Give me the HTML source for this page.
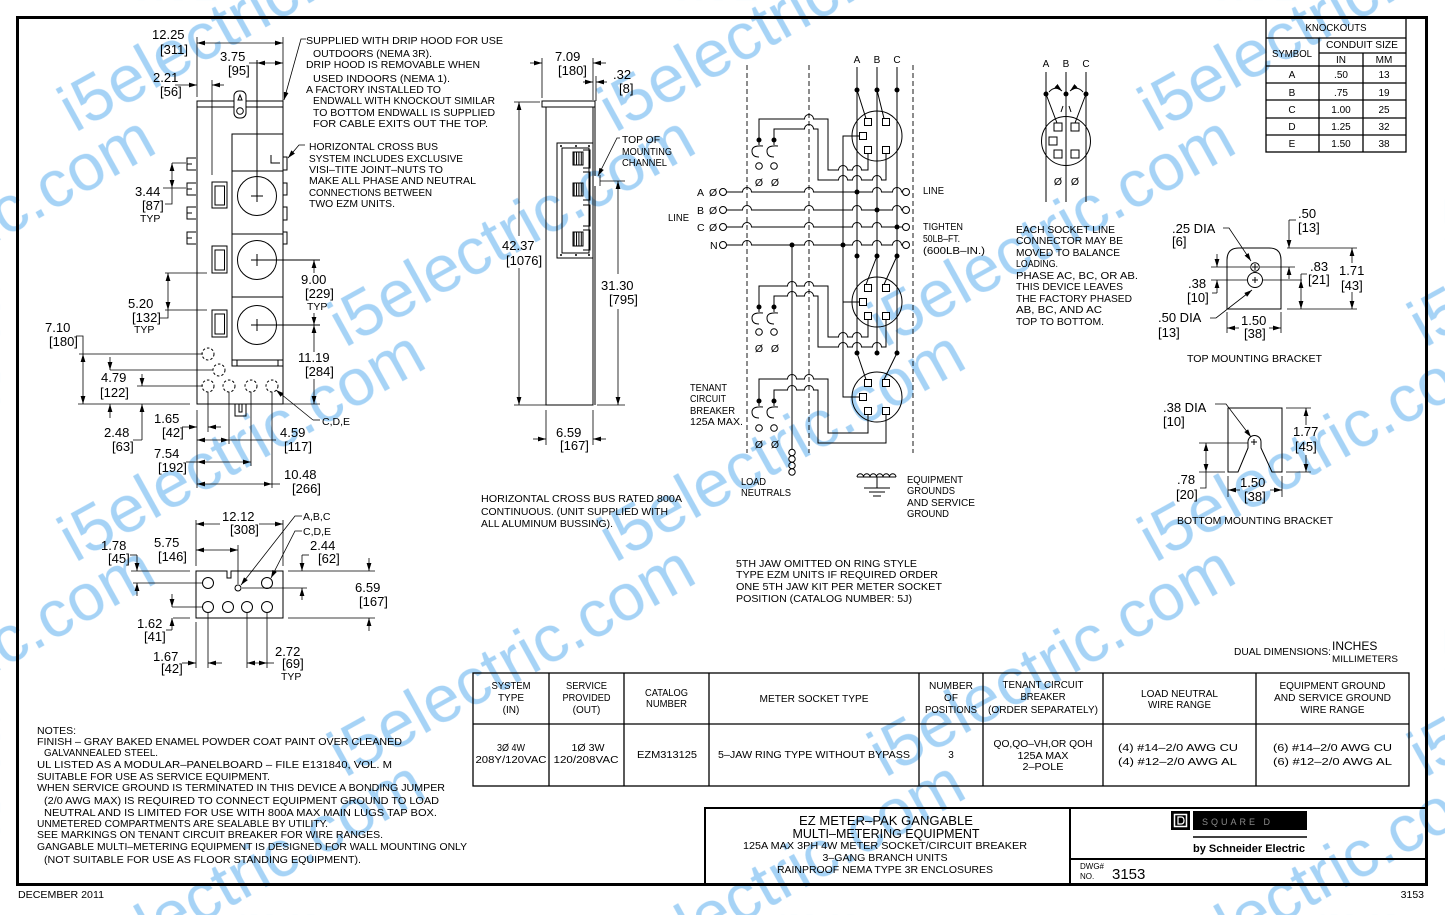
<!DOCTYPE html>
<html><head><meta charset="utf-8">
<style>
html,body{margin:0;padding:0;background:#fff;width:1445px;height:915px;overflow:hidden}
svg{display:block}
.t text{font-family:"Liberation Sans",Arial,sans-serif;fill:#000}
.d{font-size:13px}
.n{font-size:10.5px}
.s{font-size:10px}
.m{text-anchor:middle}
</style></head><body>
<svg xmlns="http://www.w3.org/2000/svg" width="1445" height="915" viewBox="0 0 1445 915">
<defs>
<marker id="a" viewBox="0 0 10 6" refX="10" refY="3" markerWidth="8" markerHeight="4.8" markerUnits="userSpaceOnUse" orient="auto-start-reverse"><path d="M0,0L10,3L0,6Z" fill="#000" stroke="none"/></marker>
<pattern id="st" width="2.4" height="10" patternUnits="userSpaceOnUse"><rect x="0" y="0" width="1" height="10" fill="#000"/></pattern>
<pattern id="wm" patternUnits="userSpaceOnUse" x="0" y="0" width="1445" height="915">
<g font-family="'Liberation Sans',Arial,sans-serif" font-size="66" fill="#a6d3f6">
<text transform="translate(75,133) rotate(-29)" textLength="405" lengthAdjust="spacingAndGlyphs">i5electric.com</text>
<text transform="translate(615,133) rotate(-29)" textLength="405" lengthAdjust="spacingAndGlyphs">i5electric.com</text>
<text transform="translate(1155,133) rotate(-29)" textLength="405" lengthAdjust="spacingAndGlyphs">i5electric.com</text>
<text transform="translate(-195,348) rotate(-29)" textLength="405" lengthAdjust="spacingAndGlyphs">i5electric.com</text>
<text transform="translate(345,348) rotate(-29)" textLength="405" lengthAdjust="spacingAndGlyphs">i5electric.com</text>
<text transform="translate(885,348) rotate(-29)" textLength="405" lengthAdjust="spacingAndGlyphs">i5electric.com</text>
<text transform="translate(1425,348) rotate(-29)" textLength="405" lengthAdjust="spacingAndGlyphs">i5electric.com</text>
<text transform="translate(75,563) rotate(-29)" textLength="405" lengthAdjust="spacingAndGlyphs">i5electric.com</text>
<text transform="translate(615,563) rotate(-29)" textLength="405" lengthAdjust="spacingAndGlyphs">i5electric.com</text>
<text transform="translate(1155,563) rotate(-29)" textLength="405" lengthAdjust="spacingAndGlyphs">i5electric.com</text>
<text transform="translate(-195,778) rotate(-29)" textLength="405" lengthAdjust="spacingAndGlyphs">i5electric.com</text>
<text transform="translate(345,778) rotate(-29)" textLength="405" lengthAdjust="spacingAndGlyphs">i5electric.com</text>
<text transform="translate(885,778) rotate(-29)" textLength="405" lengthAdjust="spacingAndGlyphs">i5electric.com</text>
<text transform="translate(1425,778) rotate(-29)" textLength="405" lengthAdjust="spacingAndGlyphs">i5electric.com</text>
<text transform="translate(75,993) rotate(-29)" textLength="405" lengthAdjust="spacingAndGlyphs">i5electric.com</text>
<text transform="translate(615,993) rotate(-29)" textLength="405" lengthAdjust="spacingAndGlyphs">i5electric.com</text>
<text transform="translate(1155,993) rotate(-29)" textLength="405" lengthAdjust="spacingAndGlyphs">i5electric.com</text>
</g>
</pattern>
</defs>
<rect width="1445" height="915" fill="#fff"/>
<rect width="1445" height="915" fill="url(#wm)"/>

<g fill="none" stroke="#000" stroke-width="1">
<!-- border -->
<rect x="17.5" y="17.5" width="1409" height="867" stroke-width="3"/>

<!-- ===== FRONT VIEW ===== -->
<rect x="197" y="101" width="86" height="6"/>
<rect x="197" y="107" width="86" height="297"/>
<rect x="234" y="91" width="12" height="27" rx="5" fill="#fff"/>
<circle cx="240" cy="111" r="3.3"/>
<path d="M238,100L240,95L242,100Z"/>
<rect x="232" y="134" width="51" height="232"/>
<path d="M232,171H283M232,234H283M232,297H283M232,360H283M237,360V366M278,360V366"/>
<circle cx="257" cy="196" r="19.5"/><circle cx="257" cy="260" r="19.5"/><circle cx="257" cy="325" r="19.5"/>
<path d="M257,60V202M251,196H263M251,260H320M257,254V266M251,325H320M257,319V331"/>
<path d="M271,155V163H280"/>
<rect x="283" y="157" width="4" height="13"/><rect x="283" y="183" width="4" height="12"/>
<rect x="283" y="207" width="4" height="13"/><rect x="283" y="232" width="4" height="12"/>
<path d="M196,158H187V170H196M187,164H192M196,183H187V195H196M187,189H192M196,207H187V219H196M187,213H192M196,232H187V244H196M187,238H192"/>
<rect x="212" y="182" width="15" height="26"/><rect x="215" y="186" width="9.5" height="19"/>
<rect x="212" y="246" width="15" height="27"/><rect x="215" y="250" width="9.5" height="20"/>
<rect x="212" y="310" width="15" height="27"/><rect x="215" y="314" width="9.5" height="20"/>
<g stroke-dasharray="2.5,2">
<circle cx="208" cy="354" r="6"/><circle cx="219" cy="370" r="6"/><circle cx="208" cy="386" r="6"/>
<circle cx="229" cy="386" r="6"/><circle cx="251" cy="386" r="6"/><circle cx="272" cy="386" r="6"/>
</g>
<path d="M235,404V416H246V404M239,404V412H242V404"/>

<!-- front view dims -->
<g stroke-width="0.8">
<line x1="197" y1="43" x2="283" y2="43" marker-start="url(#a)" marker-end="url(#a)"/>
<path d="M197,37V97M283,37V101"/>
<line x1="257" y1="63" x2="283" y2="63" marker-start="url(#a)" marker-end="url(#a)"/>
<path d="M249,63H257"/>
<line x1="175" y1="85" x2="197" y2="85" marker-end="url(#a)"/>
<line x1="224" y1="85" x2="212" y2="85" marker-end="url(#a)"/>
<path d="M212,80V175"/>
<line x1="172" y1="163" x2="172" y2="188" marker-start="url(#a)" marker-end="url(#a)"/>
<path d="M172,163H186M163,188H186M165,204H172V188"/>
<line x1="168" y1="273" x2="168" y2="310" marker-start="url(#a)" marker-end="url(#a)"/>
<path d="M165,273H207M165,310H207M160,318H168V310"/>
<line x1="83" y1="354" x2="83" y2="404" marker-start="url(#a)" marker-end="url(#a)"/>
<path d="M76,336H83V354M79,354H203M78,404H190"/>
<line x1="110" y1="357" x2="110" y2="370" marker-end="url(#a)"/>
<line x1="110" y1="418" x2="110" y2="404" marker-end="url(#a)"/>
<path d="M110,370H213"/>
<line x1="142" y1="374" x2="142" y2="386" marker-end="url(#a)"/>
<line x1="142" y1="440" x2="142" y2="404" marker-end="url(#a)"/>
<path d="M137,386H203M142,440H133"/>
<line x1="182" y1="427" x2="197" y2="427" marker-end="url(#a)"/>
<line x1="221" y1="427" x2="208" y2="427" marker-end="url(#a)"/>
<path d="M197,410V488M208,392V432M229,392V444M251,392V466M272,392V488"/>
<line x1="197" y1="440" x2="229" y2="440" marker-start="url(#a)" marker-end="url(#a)"/>
<path d="M229,440H276"/>
<line x1="197" y1="462" x2="251" y2="462" marker-start="url(#a)" marker-end="url(#a)"/>
<path d="M186,462H197"/>
<line x1="197" y1="484" x2="272" y2="484" marker-start="url(#a)" marker-end="url(#a)"/>
<path d="M272,484H280"/>
<line x1="314" y1="273" x2="314" y2="260" marker-end="url(#a)"/>
<line x1="314" y1="313" x2="314" y2="325" marker-end="url(#a)"/>
<line x1="314" y1="352" x2="314" y2="325" marker-end="url(#a)"/>
<line x1="314" y1="379" x2="314" y2="404" marker-end="url(#a)"/>
<path d="M283,404H320"/>
<line x1="313" y1="420" x2="276" y2="390" marker-end="url(#a)"/>
<path d="M313,420H320"/>
<path d="M306,39H301L284,100" marker-end="url(#a)"/>
<path d="M305,145H299L288,158" marker-end="url(#a)"/>
</g>

<!-- ===== SIDE VIEW ===== -->
<rect x="542" y="101" width="53" height="6"/>
<rect x="546" y="107" width="47" height="298"/>
<path d="M595,107V176M595,186V405"/>
<rect x="557" y="143" width="36" height="115"/>
<rect x="562" y="148" width="27" height="105"/>
<rect x="573" y="152" width="10" height="13" fill="url(#st)"/>
<rect x="573" y="183" width="10" height="13" fill="url(#st)"/>
<rect x="573" y="232" width="10" height="14" fill="url(#st)"/>
<path d="M583,150H590V168H583M583,172H590V200H583M583,205H590V226H583M583,230H590V250H583"/>
<g fill="#000" stroke="none"><circle cx="561" cy="146" r="1"/><circle cx="576" cy="146" r="1"/><circle cx="589" cy="146" r="1"/><circle cx="561" cy="255" r="1"/><circle cx="576" cy="255" r="1"/><circle cx="589" cy="255" r="1"/></g>
<g stroke-width="0.8">
<path d="M542,58V98M593,58V100M596,76V101"/>
<line x1="530" y1="63" x2="542" y2="63" marker-end="url(#a)"/>
<line x1="606" y1="63" x2="593" y2="63" marker-end="url(#a)"/>
<line x1="583" y1="82" x2="593" y2="82" marker-end="url(#a)"/>
<line x1="607" y1="82" x2="596" y2="82" marker-end="url(#a)"/>
<path d="M514,102H540M514,405H546"/>
<line x1="519" y1="236" x2="519" y2="102" marker-end="url(#a)"/>
<line x1="519" y1="268" x2="519" y2="405" marker-end="url(#a)"/>
<path d="M600,181H625M597,405H625"/>
<line x1="618" y1="274" x2="618" y2="181" marker-end="url(#a)"/>
<line x1="618" y1="309" x2="618" y2="405" marker-end="url(#a)"/>
<path d="M546,410V445M593,410V445"/>
<line x1="533" y1="439" x2="546" y2="439" marker-end="url(#a)"/>
<line x1="606" y1="439" x2="593" y2="439" marker-end="url(#a)"/>
<path d="M620,138H617L598,176" marker-end="url(#a)"/>
<path d="M600,175V186"/>
</g>

<!-- ===== SCHEMATIC ===== -->
<g stroke-dasharray="5,3" stroke-width="0.9">
<path d="M747,65V453M809,65V453M913,65V453"/>
</g>
<path d="M857,67V353M877,67V353M897,67V353"/>
<circle cx="723" cy="192" r="3.5"/><circle cx="723" cy="210" r="3.5"/><circle cx="723" cy="227" r="3.5"/><circle cx="723" cy="245" r="3.5"/>
<circle cx="906" cy="192" r="3.5"/><circle cx="906" cy="210" r="3.5"/><circle cx="906" cy="227" r="3.5"/><circle cx="906" cy="245" r="3.5"/>
<path d="M726.5,192H742.5A4.5,4.5 0 0 1 751.5,192H804.5A4.5,4.5 0 0 1 813.5,192H872.5A4.5,4.5 0 0 1 881.5,192H892.5A4.5,4.5 0 0 1 901.5,192H902.5"/>
<path d="M726.5,210H742.5A4.5,4.5 0 0 1 751.5,210H804.5A4.5,4.5 0 0 1 813.5,210H852.5A4.5,4.5 0 0 1 861.5,210H892.5A4.5,4.5 0 0 1 901.5,210H902.5"/>
<path d="M726.5,227H742.5A4.5,4.5 0 0 1 751.5,227H804.5A4.5,4.5 0 0 1 813.5,227H852.5A4.5,4.5 0 0 1 861.5,227H872.5A4.5,4.5 0 0 1 881.5,227H902.5"/>
<path d="M726.5,245H742.5A4.5,4.5 0 0 1 751.5,245H804.5A4.5,4.5 0 0 1 813.5,245H852.5A4.5,4.5 0 0 1 861.5,245H872.5A4.5,4.5 0 0 1 881.5,245H892.5A4.5,4.5 0 0 1 901.5,245H902.5"/>
<path d="M859.5,136H843V397H859.5M843,302H859.5"/>
<path d="M792,245V449"/>
<circle cx="792" cy="452.5" r="3.2"/><circle cx="792" cy="459" r="3.2"/><circle cx="792" cy="465.5" r="3.2"/><circle cx="792" cy="472" r="3.2"/>
<circle cx="877" cy="136" r="25"/><circle cx="877" cy="302" r="25"/><circle cx="877" cy="397" r="25"/>
<g fill="#fff">
<rect x="864.5" y="118.5" width="7" height="7"/><rect x="882.5" y="118.5" width="7" height="7"/><rect x="859.5" y="132.5" width="7" height="7"/><rect x="864.5" y="146.5" width="7" height="7"/><rect x="882.5" y="146.5" width="7" height="7"/>
<rect x="864.5" y="284.5" width="7" height="7"/><rect x="882.5" y="284.5" width="7" height="7"/><rect x="859.5" y="298.5" width="7" height="7"/><rect x="864.5" y="312.5" width="7" height="7"/><rect x="882.5" y="312.5" width="7" height="7"/>
<rect x="864.5" y="379.5" width="7" height="7"/><rect x="882.5" y="379.5" width="7" height="7"/><rect x="859.5" y="393.5" width="7" height="7"/><rect x="864.5" y="407.5" width="7" height="7"/><rect x="882.5" y="407.5" width="7" height="7"/>
</g>
<path d="M857,90L866,118.5M877,90L884,118.5M877,256L866,284.5M897,256L884,284.5M857,353L866,379.5M897,353L884,379.5"/>
<path d="M759,140V119H804.5A4.5,4.5 0 0 1 813.5,119H828V170H838.5A4.5,4.5 0 0 1 847.5,170H852.5A4.5,4.5 0 0 1 861.5,170H868V153.5"/>
<path d="M774,140V129H804.5A4.5,4.5 0 0 1 813.5,129H818V180H838.5A4.5,4.5 0 0 1 847.5,180H852.5A4.5,4.5 0 0 1 861.5,180H872.5A4.5,4.5 0 0 1 881.5,180H886V153.5"/>
<path d="M759,307V286H787.5A4.5,4.5 0 0 1 796.5,286H804.5A4.5,4.5 0 0 1 813.5,286H828V337H838.5A4.5,4.5 0 0 1 847.5,337H852.5A4.5,4.5 0 0 1 861.5,337H868V319.5"/>
<path d="M774,307V296H787.5A4.5,4.5 0 0 1 796.5,296H804.5A4.5,4.5 0 0 1 813.5,296H818V347H838.5A4.5,4.5 0 0 1 847.5,347H852.5A4.5,4.5 0 0 1 861.5,347H872.5A4.5,4.5 0 0 1 881.5,347H886V319.5"/>
<path d="M759,401V379H787.5A4.5,4.5 0 0 1 796.5,379H804.5A4.5,4.5 0 0 1 813.5,379H828V433H868V414.5"/>
<path d="M774,401V390H787.5A4.5,4.5 0 0 1 796.5,390H804.5A4.5,4.5 0 0 1 813.5,390H818V443H886V414.5"/>
<path d="M759,140V145M763,146Q752,145 752,151Q752,157 759,157M774,140V145M778,146Q767,145 767,151Q767,157 774,157"/>
<circle cx="759" cy="166" r="3.3"/><circle cx="774" cy="166" r="3.3"/>
<path d="M759,307V312M763,313Q752,312 752,318Q752,324 759,324M774,307V312M778,313Q767,312 767,318Q767,324 774,324"/>
<circle cx="759" cy="332" r="3.3"/><circle cx="774" cy="332" r="3.3"/>
<path d="M759,401V406M763,407Q752,406 752,412Q752,418 759,418M774,401V406M778,407Q767,406 767,412Q767,418 774,418"/>
<circle cx="759" cy="428" r="3.3"/><circle cx="774" cy="428" r="3.3"/>
<g fill="#000" stroke="none">
<circle cx="857" cy="90" r="2.5"/><circle cx="877" cy="90" r="2.5"/><circle cx="897" cy="90" r="2.5"/>
<circle cx="857" cy="256" r="2.5"/><circle cx="877" cy="256" r="2.5"/><circle cx="897" cy="256" r="2.5"/>
<circle cx="857" cy="353" r="2.5"/><circle cx="877" cy="353" r="2.5"/><circle cx="897" cy="353" r="2.5"/>
<circle cx="857" cy="192" r="2.5"/><circle cx="877" cy="210" r="2.5"/><circle cx="897" cy="227" r="2.5"/>
<circle cx="792" cy="245" r="2.5"/><circle cx="843" cy="245" r="2.5"/>
<circle cx="759" cy="140" r="2.5"/><circle cx="774" cy="140" r="2.5"/>
<circle cx="759" cy="307" r="2.5"/><circle cx="774" cy="307" r="2.5"/>
<circle cx="759" cy="401" r="2.5"/><circle cx="774" cy="401" r="2.5"/>
</g>
<path d="M857,477A3.25,3.25 0 0 1 863.5,477A3.25,3.25 0 0 1 870,477A3.25,3.25 0 0 1 876.5,477A3.25,3.25 0 0 1 883,477A3.25,3.25 0 0 1 889.5,477A3.25,3.25 0 0 1 896,477M857,477H896M877,477V488M864,488H890M869,492H885M873,496H881"/>

<!-- ===== SOCKET DETAIL (right) ===== -->
<path d="M1046,72V202M1066,72V202M1086,72V202"/>
<circle cx="1066" cy="141" r="24.5"/>
<g fill="#fff">
<rect x="1054" y="123" width="8" height="8"/><rect x="1071" y="123" width="8" height="8"/><rect x="1049" y="137" width="8" height="8"/><rect x="1054" y="150" width="8" height="8"/><rect x="1071" y="150" width="8" height="8"/>
</g>
<path d="M1046,94L1057,123M1086,94L1075,123M1061,112L1063,106M1071,112L1069,106"/>
<path d="M1049,92Q1055,85 1062,91" marker-end="url(#a)"/>
<path d="M1083,92Q1077,85 1070,91" marker-end="url(#a)"/>
<g fill="#000" stroke="none"><circle cx="1046" cy="94" r="2.5"/><circle cx="1066" cy="94" r="2.5"/><circle cx="1086" cy="94" r="2.5"/></g>

<!-- ===== KNOCKOUTS TABLE ===== -->
<g stroke-width="1.3">
<rect x="1266" y="18" width="140" height="134"/>
<path d="M1266,38H1406M1319,53H1406M1266,66H1406M1266,83H1406M1266,100H1406M1266,118H1406M1266,135H1406M1319,38V152M1363,53V152"/>
</g>

<!-- ===== TOP MOUNTING BRACKET ===== -->
<path d="M1227,309V260Q1227,248 1239,248H1269Q1281,248 1281,260V309Z"/>
<circle cx="1255" cy="280" r="7.5" fill="#fff"/>
<circle cx="1255" cy="267" r="4.3" fill="#fff"/>
<path d="M1252,267H1258M1255,264V270M1252,280H1258M1255,277V283"/>
<g stroke-width="0.8">
<path d="M1211,267H1250M1260,267H1295M1211,280H1247M1263,280H1302M1287,248H1357M1287,309H1357"/>
<line x1="1217" y1="254" x2="1217" y2="267" marker-end="url(#a)"/>
<line x1="1217" y1="293" x2="1217" y2="280" marker-end="url(#a)"/>
<path d="M1217,293H1212"/>
<line x1="1289" y1="220" x2="1289" y2="248" marker-end="url(#a)"/>
<path d="M1289,220H1296"/>
<line x1="1289" y1="279" x2="1289" y2="267" marker-end="url(#a)"/>
<line x1="1301" y1="280" x2="1301" y2="309" marker-start="url(#a)" marker-end="url(#a)"/>
<path d="M1301,274V280M1301,274H1307"/>
<line x1="1352" y1="263" x2="1352" y2="248" marker-end="url(#a)"/>
<line x1="1352" y1="292" x2="1352" y2="309" marker-end="url(#a)"/>
<path d="M1223,228H1229L1251,261" marker-end="url(#a)"/>
<path d="M1210,318H1216L1252,290" marker-end="url(#a)"/>
<path d="M1227,312V333M1281,312V333"/>
<line x1="1239" y1="328" x2="1227" y2="328" marker-end="url(#a)"/>
<line x1="1269" y1="328" x2="1281" y2="328" marker-end="url(#a)"/>
</g>

<!-- ===== BOTTOM MOUNTING BRACKET ===== -->
<path d="M1228,472V408H1282V472H1272L1261,448V442A6.5,6.5 0 0 0 1248,442V448L1238,472Z"/>
<path d="M1251,442H1257M1254,439V445"/>
<g stroke-width="0.8">
<path d="M1286,408H1311M1286,472H1311M1199,443H1248M1199,472H1225"/>
<line x1="1306" y1="425" x2="1306" y2="408" marker-end="url(#a)"/>
<line x1="1306" y1="455" x2="1306" y2="472" marker-end="url(#a)"/>
<line x1="1206" y1="443" x2="1206" y2="472" marker-start="url(#a)" marker-end="url(#a)"/>
<path d="M1206,472V488H1200"/>
<path d="M1215,404H1226L1251,437" marker-end="url(#a)"/>
<path d="M1228,476V497M1282,476V497"/>
<line x1="1240" y1="490" x2="1228" y2="490" marker-end="url(#a)"/>
<line x1="1270" y1="490" x2="1282" y2="490" marker-end="url(#a)"/>
</g>

<!-- ===== PLAN VIEW (bottom-left) ===== -->
<path d="M196,571H227V578H231V571H283V618H196Z"/>
<circle cx="208" cy="583" r="5.5"/><circle cx="267" cy="583" r="5.5"/><circle cx="238" cy="588" r="3"/>
<circle cx="208" cy="607" r="5.5"/><circle cx="228" cy="607" r="5.5"/><circle cx="247" cy="607" r="5.5"/><circle cx="267" cy="607" r="5.5"/>
<g stroke-width="0.8">
<path d="M196,520V566M283,520V566"/>
<line x1="220" y1="524" x2="196" y2="524" marker-end="url(#a)"/>
<line x1="259" y1="524" x2="283" y2="524" marker-end="url(#a)"/>
<line x1="196" y1="550" x2="238" y2="550" marker-start="url(#a)" marker-end="url(#a)"/>
<path d="M238,545V584"/>
<path d="M131,571H190M133,583H203"/>
<line x1="137" y1="555" x2="137" y2="571" marker-end="url(#a)"/>
<path d="M130,555H137"/>
<line x1="137" y1="596" x2="137" y2="583" marker-end="url(#a)"/>
<path d="M172,607H203M173,618H190"/>
<line x1="172" y1="594" x2="172" y2="607" marker-end="url(#a)"/>
<line x1="172" y1="630" x2="172" y2="618" marker-end="url(#a)"/>
<path d="M166,630H172"/>
<path d="M288,571H375M288,618H375"/>
<line x1="369" y1="558" x2="369" y2="571" marker-end="url(#a)"/>
<line x1="369" y1="631" x2="369" y2="618" marker-end="url(#a)"/>
<path d="M242,588H307"/>
<line x1="302" y1="555" x2="302" y2="571" marker-end="url(#a)"/>
<path d="M302,555H309"/>
<line x1="302" y1="600" x2="302" y2="588" marker-end="url(#a)"/>
<path d="M302,516H295L241,585" marker-end="url(#a)"/>
<path d="M302,531H295L271,578" marker-end="url(#a)"/>
<path d="M196,622V668M208,613V668M247,613V668M267,613V668"/>
<line x1="182" y1="663" x2="196" y2="663" marker-end="url(#a)"/>
<line x1="222" y1="663" x2="208" y2="663" marker-end="url(#a)"/>
<line x1="247" y1="663" x2="267" y2="663" marker-start="url(#a)" marker-end="url(#a)"/>
<path d="M267,663H274"/>
</g>

<!-- ===== MAIN TABLE ===== -->
<g stroke-width="1.3">
<rect x="473" y="673" width="936" height="113"/>
<path d="M473,724H1409M549,673V786M624,673V786M709,673V786M919,673V786M983,673V786M1103,673V786M1256,673V786"/>
</g>

<!-- ===== TITLE BLOCK ===== -->
<g stroke-width="2">
<path d="M705,885V808H1427M1070,808V885M1070,859H1427"/>
</g>
<rect x="1171" y="811" width="19" height="19" fill="#000" stroke="none"/>
<rect x="1174.5" y="814.5" width="12" height="12" stroke="#fff" stroke-width="1.5"/>
<path d="M1178,817V824H1181Q1184,824 1184,820.5Q1184,817 1181,817Z" stroke="#fff" stroke-width="1.2"/>
<rect x="1193" y="811" width="114" height="19" fill="#000" stroke="none"/>
<path d="M1193,837H1307" stroke-width="1.5"/>
</g>

<!-- ===== TEXT ===== -->
<g class="t">
<text class="n" x="306" y="44" textLength="197" lengthAdjust="spacingAndGlyphs">SUPPLIED WITH DRIP HOOD FOR USE</text>
<text class="n" x="313" y="57" textLength="119" lengthAdjust="spacingAndGlyphs">OUTDOORS (NEMA 3R).</text>
<text class="n" x="306" y="68" textLength="174" lengthAdjust="spacingAndGlyphs">DRIP HOOD IS REMOVABLE WHEN</text>
<text class="n" x="313" y="82" textLength="137" lengthAdjust="spacingAndGlyphs">USED INDOORS (NEMA 1).</text>
<text class="n" x="306" y="93" textLength="135" lengthAdjust="spacingAndGlyphs">A FACTORY INSTALLED TO</text>
<text class="n" x="313" y="104" textLength="182" lengthAdjust="spacingAndGlyphs">ENDWALL WITH KNOCKOUT SIMILAR</text>
<text class="n" x="313" y="116" textLength="182" lengthAdjust="spacingAndGlyphs">TO BOTTOM ENDWALL IS SUPPLIED</text>
<text class="n" x="313" y="127" textLength="175" lengthAdjust="spacingAndGlyphs">FOR CABLE EXITS OUT THE TOP.</text>
<text class="n" x="309" y="150" textLength="129" lengthAdjust="spacingAndGlyphs">HORIZONTAL CROSS BUS</text>
<text class="n" x="309" y="162" textLength="154" lengthAdjust="spacingAndGlyphs">SYSTEM INCLUDES EXCLUSIVE</text>
<text class="n" x="309" y="173" textLength="134" lengthAdjust="spacingAndGlyphs">VISI–TITE JOINT–NUTS TO</text>
<text class="n" x="309" y="184" textLength="167" lengthAdjust="spacingAndGlyphs">MAKE ALL PHASE AND NEUTRAL</text>
<text class="n" x="309" y="196" textLength="123" lengthAdjust="spacingAndGlyphs">CONNECTIONS BETWEEN</text>
<text class="n" x="309" y="207" textLength="86" lengthAdjust="spacingAndGlyphs">TWO EZM UNITS.</text>

<text class="d" x="152" y="39">12.25</text>
<text class="d" x="160" y="54">[311]</text>
<text class="d" x="220" y="61">3.75</text>
<text class="d" x="228" y="75">[95]</text>
<text class="d" x="153" y="82">2.21</text>
<text class="d" x="160" y="96">[56]</text>
<text class="d" x="135" y="196">3.44</text>
<text class="d" x="142" y="210">[87]</text>
<text class="n" x="140" y="222">TYP</text>
<text class="d" x="301" y="284">9.00</text>
<text class="d" x="305" y="298">[229]</text>
<text class="n" x="307" y="310">TYP</text>
<text class="d" x="128" y="308">5.20</text>
<text class="d" x="132" y="322">[132]</text>
<text class="n" x="134" y="333">TYP</text>
<text class="d" x="45" y="332">7.10</text>
<text class="d" x="49" y="346">[180]</text>
<text class="d" x="298" y="362">11.19</text>
<text class="d" x="305" y="376">[284]</text>
<text class="d" x="101" y="382">4.79</text>
<text class="d" x="100" y="397">[122]</text>
<text class="d" x="154" y="423">1.65</text>
<text class="d" x="162" y="437">[42]</text>
<text class="d" x="104" y="437">2.48</text>
<text class="d" x="112" y="451">[63]</text>
<text class="d" x="280" y="437">4.59</text>
<text class="d" x="284" y="451">[117]</text>
<text class="d" x="154" y="458">7.54</text>
<text class="d" x="158" y="472">[192]</text>
<text class="d" x="284" y="479">10.48</text>
<text class="d" x="292" y="493">[266]</text>
<text class="n" x="322" y="425">C,D,E</text>

<text class="d" x="555" y="61">7.09</text>
<text class="d" x="558" y="75">[180]</text>
<text class="d" x="613" y="79">.32</text>
<text class="d" x="619" y="93">[8]</text>
<text class="d" x="502" y="250">42.37</text>
<text class="d" x="506" y="265">[1076]</text>
<text class="d" x="601" y="290">31.30</text>
<text class="d" x="609" y="304">[795]</text>
<text class="d" x="556" y="437">6.59</text>
<text class="d" x="560" y="450">[167]</text>
<text class="n" x="622" y="143" textLength="38" lengthAdjust="spacingAndGlyphs">TOP OF</text>
<text class="n" x="622" y="155" textLength="50" lengthAdjust="spacingAndGlyphs">MOUNTING</text>
<text class="n" x="622" y="166" textLength="45" lengthAdjust="spacingAndGlyphs">CHANNEL</text>

<text class="s m" x="857" y="63">A</text>
<text class="s m" x="877" y="63">B</text>
<text class="s m" x="897" y="63">C</text>
<text class="n" x="697" y="196">A</text><text class="n" x="709" y="196">Ø</text>
<text class="n" x="697" y="214">B</text><text class="n" x="709" y="214">Ø</text>
<text class="n" x="697" y="231">C</text><text class="n" x="709" y="231">Ø</text>
<text class="n" x="710" y="249">N</text>
<text class="n" x="668" y="221" textLength="21" lengthAdjust="spacingAndGlyphs">LINE</text>
<text class="n" x="923" y="194" textLength="21" lengthAdjust="spacingAndGlyphs">LINE</text>
<text class="n" x="923" y="230" textLength="40" lengthAdjust="spacingAndGlyphs">TIGHTEN</text>
<text class="n" x="923" y="242" textLength="37" lengthAdjust="spacingAndGlyphs">50LB–FT.</text>
<text class="n" x="923" y="254" textLength="62" lengthAdjust="spacingAndGlyphs">(600LB–IN.)</text>
<text class="n m" x="759" y="186">Ø</text><text class="n m" x="775" y="186">Ø</text>
<text class="n m" x="759" y="352">Ø</text><text class="n m" x="775" y="352">Ø</text>
<text class="n m" x="759" y="448">Ø</text><text class="n m" x="775" y="448">Ø</text>
<text class="n" x="690" y="391" textLength="37" lengthAdjust="spacingAndGlyphs">TENANT</text>
<text class="n" x="690" y="402" textLength="36" lengthAdjust="spacingAndGlyphs">CIRCUIT</text>
<text class="n" x="690" y="414" textLength="45" lengthAdjust="spacingAndGlyphs">BREAKER</text>
<text class="n" x="690" y="425" textLength="53" lengthAdjust="spacingAndGlyphs">125A MAX.</text>
<text class="n" x="741" y="485" textLength="25" lengthAdjust="spacingAndGlyphs">LOAD</text>
<text class="n" x="741" y="496" textLength="50" lengthAdjust="spacingAndGlyphs">NEUTRALS</text>
<text class="n" x="907" y="483" textLength="56" lengthAdjust="spacingAndGlyphs">EQUIPMENT</text>
<text class="n" x="907" y="494" textLength="48" lengthAdjust="spacingAndGlyphs">GROUNDS</text>
<text class="n" x="907" y="506" textLength="68" lengthAdjust="spacingAndGlyphs">AND SERVICE</text>
<text class="n" x="907" y="517" textLength="42" lengthAdjust="spacingAndGlyphs">GROUND</text>
<text class="n" x="481" y="502" textLength="201" lengthAdjust="spacingAndGlyphs">HORIZONTAL CROSS BUS RATED 800A</text>
<text class="n" x="481" y="515" textLength="187" lengthAdjust="spacingAndGlyphs">CONTINUOUS. (UNIT SUPPLIED WITH</text>
<text class="n" x="481" y="527" textLength="132" lengthAdjust="spacingAndGlyphs">ALL ALUMINUM BUSSING).</text>
<text class="n" x="736" y="567" textLength="181" lengthAdjust="spacingAndGlyphs">5TH JAW OMITTED ON RING STYLE</text>
<text class="n" x="736" y="578" textLength="202" lengthAdjust="spacingAndGlyphs">TYPE EZM UNITS IF REQUIRED ORDER</text>
<text class="n" x="736" y="590" textLength="206" lengthAdjust="spacingAndGlyphs">ONE 5TH JAW KIT PER METER SOCKET</text>
<text class="n" x="736" y="602" textLength="176" lengthAdjust="spacingAndGlyphs">POSITION (CATALOG NUMBER: 5J)</text>

<text class="s m" x="1046" y="67">A</text>
<text class="s m" x="1066" y="67">B</text>
<text class="s m" x="1086" y="67">C</text>
<text class="n m" x="1058" y="185">Ø</text><text class="n m" x="1075" y="185">Ø</text>
<text class="n" x="1016" y="233" textLength="99" lengthAdjust="spacingAndGlyphs">EACH SOCKET LINE</text>
<text class="n" x="1016" y="244" textLength="107" lengthAdjust="spacingAndGlyphs">CONNECTOR MAY BE</text>
<text class="n" x="1016" y="256" textLength="104" lengthAdjust="spacingAndGlyphs">MOVED TO BALANCE</text>
<text class="n" x="1016" y="267" textLength="42" lengthAdjust="spacingAndGlyphs">LOADING.</text>
<text class="n" x="1016" y="279" textLength="122" lengthAdjust="spacingAndGlyphs">PHASE AC, BC, OR AB.</text>
<text class="n" x="1016" y="290" textLength="107" lengthAdjust="spacingAndGlyphs">THIS DEVICE LEAVES</text>
<text class="n" x="1016" y="302" textLength="116" lengthAdjust="spacingAndGlyphs">THE FACTORY PHASED</text>
<text class="n" x="1016" y="313" textLength="86" lengthAdjust="spacingAndGlyphs">AB, BC, AND AC</text>
<text class="n" x="1016" y="325" textLength="88" lengthAdjust="spacingAndGlyphs">TOP TO BOTTOM.</text>

<text class="s m" x="1336" y="31" textLength="61" lengthAdjust="spacingAndGlyphs">KNOCKOUTS</text>
<text class="s m" x="1292" y="57" textLength="40" lengthAdjust="spacingAndGlyphs">SYMBOL</text>
<text class="s m" x="1362" y="48" textLength="72" lengthAdjust="spacingAndGlyphs">CONDUIT SIZE</text>
<text class="s m" x="1341" y="63">IN</text>
<text class="s m" x="1384" y="63">MM</text>
<text class="s m" x="1292" y="78">A</text><text class="s m" x="1341" y="78">.50</text><text class="s m" x="1384" y="78">13</text>
<text class="s m" x="1292" y="96">B</text><text class="s m" x="1341" y="96">.75</text><text class="s m" x="1384" y="96">19</text>
<text class="s m" x="1292" y="113">C</text><text class="s m" x="1341" y="113">1.00</text><text class="s m" x="1384" y="113">25</text>
<text class="s m" x="1292" y="130">D</text><text class="s m" x="1341" y="130">1.25</text><text class="s m" x="1384" y="130">32</text>
<text class="s m" x="1292" y="147">E</text><text class="s m" x="1341" y="147">1.50</text><text class="s m" x="1384" y="147">38</text>

<text class="d" x="1172" y="233">.25 DIA</text>
<text class="d" x="1172" y="246">[6]</text>
<text class="d" x="1298" y="218">.50</text>
<text class="d" x="1298" y="232">[13]</text>
<text class="d" x="1188" y="288">.38</text>
<text class="d" x="1187" y="302">[10]</text>
<text class="d" x="1310" y="271">.83</text>
<text class="d" x="1308" y="284">[21]</text>
<text class="d" x="1339" y="275">1.71</text>
<text class="d" x="1341" y="290">[43]</text>
<text class="d" x="1158" y="322">.50 DIA</text>
<text class="d" x="1158" y="337">[13]</text>
<text class="d" x="1241" y="325">1.50</text>
<text class="d" x="1244" y="338">[38]</text>
<text class="n" x="1187" y="362" textLength="135" lengthAdjust="spacingAndGlyphs">TOP MOUNTING BRACKET</text>

<text class="d" x="1163" y="412">.38 DIA</text>
<text class="d" x="1163" y="426">[10]</text>
<text class="d" x="1293" y="436">1.77</text>
<text class="d" x="1295" y="451">[45]</text>
<text class="d" x="1177" y="484">.78</text>
<text class="d" x="1176" y="499">[20]</text>
<text class="d" x="1240" y="487">1.50</text>
<text class="d" x="1244" y="501">[38]</text>
<text class="n" x="1177" y="524" textLength="156" lengthAdjust="spacingAndGlyphs">BOTTOM MOUNTING BRACKET</text>
<text class="s" x="1234" y="655" textLength="97" lengthAdjust="spacingAndGlyphs">DUAL DIMENSIONS:</text>
<text style="font-size:12px" x="1332" y="650">INCHES</text>
<text style="font-size:9.5px" x="1332" y="662" textLength="66" lengthAdjust="spacingAndGlyphs">MILLIMETERS</text>

<text class="d" x="222" y="521">12.12</text>
<text class="d" x="230" y="534">[308]</text>
<text class="d" x="154" y="547">5.75</text>
<text class="d" x="158" y="561">[146]</text>
<text class="d" x="101" y="550">1.78</text>
<text class="d" x="108" y="563">[45]</text>
<text class="d" x="310" y="550">2.44</text>
<text class="d" x="318" y="563">[62]</text>
<text class="d" x="355" y="592">6.59</text>
<text class="d" x="359" y="606">[167]</text>
<text class="d" x="137" y="628">1.62</text>
<text class="d" x="144" y="641">[41]</text>
<text class="d" x="153" y="661">1.67</text>
<text class="d" x="161" y="673">[42]</text>
<text class="d" x="275" y="656">2.72</text>
<text class="d" x="282" y="668">[69]</text>
<text class="n" x="281" y="680">TYP</text>
<text class="n" x="303" y="520">A,B,C</text>
<text class="n" x="303" y="535">C,D,E</text>

<text class="n" x="37" y="734">NOTES:</text>
<text class="n" x="37" y="745" textLength="365" lengthAdjust="spacingAndGlyphs">FINISH – GRAY BAKED ENAMEL POWDER COAT PAINT OVER CLEANED</text>
<text class="n" x="44" y="756" textLength="114" lengthAdjust="spacingAndGlyphs">GALVANNEALED STEEL.</text>
<text class="n" x="37" y="768" textLength="355" lengthAdjust="spacingAndGlyphs">UL LISTED AS A MODULAR–PANELBOARD – FILE E131840, VOL. M</text>
<text class="n" x="37" y="780" textLength="233" lengthAdjust="spacingAndGlyphs">SUITABLE FOR USE AS SERVICE EQUIPMENT.</text>
<text class="n" x="37" y="791" textLength="408" lengthAdjust="spacingAndGlyphs">WHEN SERVICE GROUND IS TERMINATED IN THIS DEVICE A BONDING JUMPER</text>
<text class="n" x="44" y="804" textLength="395" lengthAdjust="spacingAndGlyphs">(2/0 AWG MAX) IS REQUIRED TO CONNECT EQUIPMENT GROUND TO LOAD</text>
<text class="n" x="44" y="816" textLength="393" lengthAdjust="spacingAndGlyphs">NEUTRAL AND IS LIMITED FOR USE WITH 800A MAX MAIN LUGS TAP BOX.</text>
<text class="n" x="37" y="827" textLength="291" lengthAdjust="spacingAndGlyphs">UNMETERED COMPARTMENTS ARE SEALABLE BY UTILITY.</text>
<text class="n" x="37" y="838" textLength="346" lengthAdjust="spacingAndGlyphs">SEE MARKINGS ON TENANT CIRCUIT BREAKER FOR WIRE RANGES.</text>
<text class="n" x="37" y="850" textLength="430" lengthAdjust="spacingAndGlyphs">GANGABLE MULTI–METERING EQUIPMENT IS DESIGNED FOR WALL MOUNTING ONLY</text>
<text class="n" x="44" y="863" textLength="317" lengthAdjust="spacingAndGlyphs">(NOT SUITABLE FOR USE AS FLOOR STANDING EQUIPMENT).</text>
<text class="n" x="18" y="898" textLength="86" lengthAdjust="spacingAndGlyphs">DECEMBER 2011</text>
<text class="n" x="1424" y="898" style="text-anchor:end">3153</text>

<text class="s m" x="511" y="689" textLength="39" lengthAdjust="spacingAndGlyphs">SYSTEM</text>
<text class="s m" x="511" y="701">TYPE</text>
<text class="s m" x="511" y="713">(IN)</text>
<text class="s m" x="586.5" y="689" textLength="41" lengthAdjust="spacingAndGlyphs">SERVICE</text>
<text class="s m" x="586.5" y="701" textLength="48" lengthAdjust="spacingAndGlyphs">PROVIDED</text>
<text class="s m" x="586.5" y="713">(OUT)</text>
<text class="s m" x="666.5" y="696" textLength="43" lengthAdjust="spacingAndGlyphs">CATALOG</text>
<text class="s m" x="666.5" y="707" textLength="41" lengthAdjust="spacingAndGlyphs">NUMBER</text>
<text class="s m" x="814" y="702" textLength="109" lengthAdjust="spacingAndGlyphs">METER SOCKET TYPE</text>
<text class="s m" x="951" y="689" textLength="44" lengthAdjust="spacingAndGlyphs">NUMBER</text>
<text class="s m" x="951" y="701">OF</text>
<text class="s m" x="951" y="713" textLength="52" lengthAdjust="spacingAndGlyphs">POSITIONS</text>
<text class="s m" x="1043" y="688" textLength="81" lengthAdjust="spacingAndGlyphs">TENANT CIRCUIT</text>
<text class="s m" x="1043" y="700" textLength="45" lengthAdjust="spacingAndGlyphs">BREAKER</text>
<text class="s m" x="1043" y="713" textLength="110" lengthAdjust="spacingAndGlyphs">(ORDER SEPARATELY)</text>
<text class="s m" x="1179.5" y="697" textLength="77" lengthAdjust="spacingAndGlyphs">LOAD NEUTRAL</text>
<text class="s m" x="1179.5" y="708" textLength="63" lengthAdjust="spacingAndGlyphs">WIRE RANGE</text>
<text class="s m" x="1332.5" y="689" textLength="106" lengthAdjust="spacingAndGlyphs">EQUIPMENT GROUND</text>
<text class="s m" x="1332.5" y="701" textLength="117" lengthAdjust="spacingAndGlyphs">AND SERVICE GROUND</text>
<text class="s m" x="1332.5" y="713" textLength="64" lengthAdjust="spacingAndGlyphs">WIRE RANGE</text>
<text class="s m" x="511" y="751" textLength="28" lengthAdjust="spacingAndGlyphs">3Ø 4W</text>
<text class="s m" x="511" y="763" textLength="71" lengthAdjust="spacingAndGlyphs">208Y/120VAC</text>
<text class="s m" x="588" y="751" textLength="33" lengthAdjust="spacingAndGlyphs">1Ø 3W</text>
<text class="s m" x="586" y="763" textLength="65" lengthAdjust="spacingAndGlyphs">120/208VAC</text>
<text class="s m" x="667" y="758" textLength="60" lengthAdjust="spacingAndGlyphs">EZM313125</text>
<text class="s m" x="814" y="758" textLength="192" lengthAdjust="spacingAndGlyphs">5–JAW RING TYPE WITHOUT BYPASS</text>
<text class="s m" x="951" y="758">3</text>
<text class="s m" x="1043" y="747" textLength="99" lengthAdjust="spacingAndGlyphs">QO,QO–VH,OR QOH</text>
<text class="s m" x="1043" y="759" textLength="51" lengthAdjust="spacingAndGlyphs">125A MAX</text>
<text class="s m" x="1043" y="770" textLength="41" lengthAdjust="spacingAndGlyphs">2–POLE</text>
<text class="s" x="1118" y="751" textLength="120" lengthAdjust="spacingAndGlyphs">(4) #14–2/0 AWG CU</text>
<text class="s" x="1118" y="765" textLength="119" lengthAdjust="spacingAndGlyphs">(4) #12–2/0 AWG AL</text>
<text class="s" x="1273" y="751" textLength="119" lengthAdjust="spacingAndGlyphs">(6) #14–2/0 AWG CU</text>
<text class="s" x="1273" y="765" textLength="119" lengthAdjust="spacingAndGlyphs">(6) #12–2/0 AWG AL</text>

<text class="m" style="font-size:12.5px" x="886" y="825" textLength="174" lengthAdjust="spacingAndGlyphs">EZ METER–PAK GANGABLE</text>
<text class="m" style="font-size:12.5px" x="886" y="838" textLength="187" lengthAdjust="spacingAndGlyphs">MULTI–METERING EQUIPMENT</text>
<text class="s m" x="885" y="849" textLength="284" lengthAdjust="spacingAndGlyphs">125A MAX 3PH 4W METER SOCKET/CIRCUIT BREAKER</text>
<text class="s m" x="885" y="861" textLength="125" lengthAdjust="spacingAndGlyphs">3–GANG BRANCH UNITS</text>
<text class="s m" x="885" y="873" textLength="216" lengthAdjust="spacingAndGlyphs">RAINPROOF NEMA TYPE 3R ENCLOSURES</text>
<text x="1202" y="825" style="font-size:9px;fill:#8a8a8a;letter-spacing:3px">SQUARE D</text>
<text x="1193" y="852" style="font-size:11px;font-weight:bold" textLength="112" lengthAdjust="spacingAndGlyphs">by Schneider Electric</text>
<text x="1080" y="869" style="font-size:8px">DWG#</text>
<text x="1080" y="879" style="font-size:8px">NO.</text>
<text x="1112" y="879" style="font-size:15px">3153</text>
</g>
</svg>
</body></html>
